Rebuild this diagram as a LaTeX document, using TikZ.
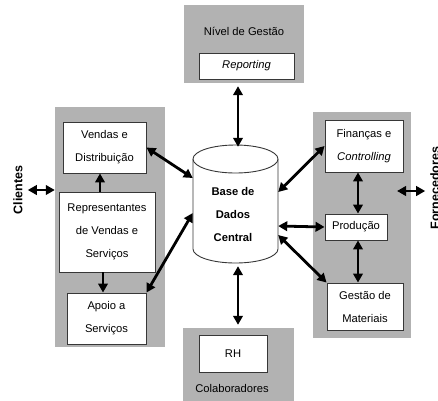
\documentclass[tikz,border=0pt]{standalone}
\usepackage{fontspec}
\setmainfont{Liberation Sans}
\usetikzlibrary{arrows.meta}
\definecolor{panel}{RGB}{178,178,178}
\definecolor{edge}{RGB}{55,55,55}
\tikzset{
  panelbox/.style={fill=panel, draw=none, inner sep=0pt},
  wbox/.style={fill=white, draw=edge, line width=0.9pt, inner sep=0pt, align=center,
    font=\fontsize{11.2}{23}\selectfont},
  lbl/.style={inner sep=1pt, align=center, font=\fontsize{11.2}{23}\selectfont},
  side/.style={inner sep=2pt, rotate=90, font=\fontsize{12.5}{14}\selectfont\bfseries},
  dbl/.style={line width=2.8pt, {Triangle[length=9pt,width=9.5pt]}-{Triangle[length=9pt,width=9.5pt]}},
  sgl/.style={line width=2.8pt, -{Triangle[length=9pt,width=9.5pt]}},
  cyl/.style={draw=edge, line width=0.9pt, fill=white}
}
\begin{document}
\begin{tikzpicture}[x={(1pt,0)}, y={(0,-1pt)}]
\useasboundingbox (0,0) rectangle (438,400);
% panels
\node[panelbox, minimum width=120pt, minimum height=78pt] (mg) at (244,44) {};
\node[panelbox, minimum width=110pt, minimum height=240pt] (lg) at (110,227) {};
\node[panelbox, minimum width=98pt, minimum height=226pt] (rg) at (362,225) {};
\node[panelbox, minimum width=111pt, minimum height=74pt] (rhg) at (238.5,365) {};
% top
\node[lbl] (mgt) at (244,31) {Nível de Gestão};
\node[wbox, minimum width=95pt, minimum height=26pt] (rep1) at (246.5,66) {\itshape Reporting};
% left
\node[wbox, minimum width=83pt, minimum height=51pt] (v) at (104.5,147.5) {Vendas e\\Distribuição};
\node[wbox, minimum width=96pt, minimum height=80pt] (rep) at (107,232) {Representantes\\de Vendas e\\Serviços};
\node[wbox, minimum width=79pt, minimum height=51pt] (ap) at (106.5,318.5) {Apoio a\\Serviços};
% right
\node[wbox, minimum width=78pt, minimum height=52pt] (fin) at (364,146) {Finanças e\\\itshape Controlling};
\node[wbox, minimum width=62pt, minimum height=26pt] (prod) at (356,227) {Produção};
\node[wbox, minimum width=76pt, minimum height=47pt] (ges) at (365,306.5) {Gestão de\\Materiais};
% bottom
\node[wbox, minimum width=68pt, minimum height=37pt] (rh) at (233,353.5) {RH};
\node[lbl] (col) at (232,388) {Colaboradores};
% side labels
\node[side] (cli) at (18,190) {Clientes};
\node[side] (forn) at (435,188) {Fornecedores};
% cylinder
\node[inner sep=0pt, minimum width=85pt, minimum height=118pt] (db) at (235.5,204) {};
\draw[cyl] (193,159) -- (193,249) arc[start angle=180, end angle=360, x radius=42.5pt, y radius=14pt] -- (278,159);
\draw[cyl] (235.5,159) ellipse[x radius=42.5pt, y radius=14pt];
\node[lbl, font=\fontsize{11.2}{23}\selectfont\bfseries] (dbt) at (233,214) {Base de\\Dados\\Central};
% connectors
\draw[dbl] ([xshift=-6pt,yshift=-3pt]mg.south) -- ([xshift=2.5pt,yshift=-2pt]db.north);
\draw[dbl] ([xshift=2.5pt,yshift=-3pt]db.south) -- ([xshift=-0.5pt,yshift=3pt]rhg.north);
\draw[dbl] (v.east) -- ([yshift=26pt]db.west);
\draw[dbl] (ap.north east) -- ([yshift=-9pt]db.west);
\draw[dbl] (fin.west) -- ([yshift=12pt]db.east);
\draw[dbl] (prod.west) -- ([yshift=-22pt]db.east);
\draw[dbl] (ges.north west) -- ([yshift=-31pt]db.east);
\draw[sgl] ([xshift=-7pt]rep.north) -- ([xshift=-7pt]rep.north |- v.south);
\draw[sgl] ([xshift=-4pt]rep.south) -- ([xshift=-4pt]rep.south |- ap.north);
\draw[dbl] ([xshift=2pt]prod.north) -- ([xshift=2pt]prod.north |- fin.south);
\draw[dbl] ([xshift=2pt]prod.south) -- ([xshift=2pt]prod.south |- ges.north);
\draw[dbl, shorten <=3pt] (cli.south) -- (cli.south -| lg.west);
\coordinate (fo) at (397,191);
\draw[dbl, shorten >=3pt] (fo) -- (fo -| forn.north);
\end{tikzpicture}
\end{document}
